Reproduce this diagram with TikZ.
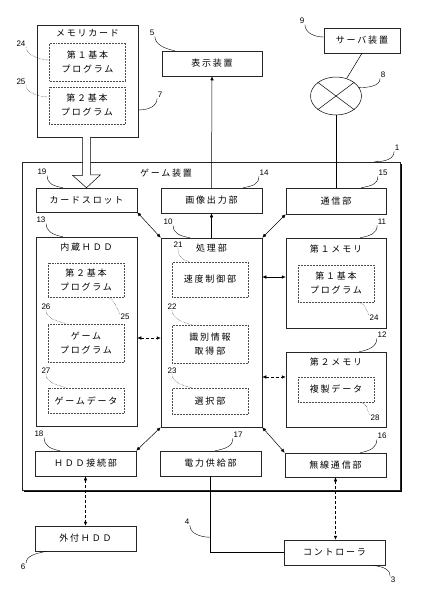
\documentclass[tikz,border=0pt]{standalone}
\usepackage{fontspec}
\setmainfont{Noto Sans CJK JP}
\newfontfamily\jpfont[LetterSpace=20]{Noto Sans CJK JP}
\newfontfamily\numfont{Liberation Sans}
\usetikzlibrary{arrows.meta, positioning, calc, shapes.geometric, shadows}
\tikzset{
    unit/.style={rectangle, draw=black!85, line width=0.5pt, fill=white, minimum width=101pt, minimum height=25pt, inner sep=0pt, align=center, font=\jpfont\fontsize{9}{14}\selectfont, drop shadow={shadow xshift=1pt, shadow yshift=-1pt, fill=black, opacity=1}},
    sub/.style={rectangle, draw=black!70, densely dotted, line width=0.5pt, minimum width=76pt, inner sep=0pt, align=center, font=\jpfont\fontsize{9}{14}\selectfont},
    ttl/.style={inner sep=0pt, font=\jpfont\fontsize{9}{14}\selectfont},
    num/.style={inner sep=0.5pt, font=\numfont\fontsize{8}{9}\selectfont},
    lead/.style={line width=0.4pt},
    leadin/.style={line width=0.4pt, densely dotted},
    arr/.style={-{Latex[length=4pt,width=3.5pt]}, line width=0.5pt}
}

\begin{document}
\begin{tikzpicture}[x=1pt, y=-1pt,
  arr2/.style={{Latex[length=4pt,width=3.5pt]}-{Latex[length=4pt,width=3.5pt]}, line width=0.5pt},
  link/.style={line width=0.5pt}]
  \useasboundingbox (0,0) rectangle (425,600);
  % outside the game device
  \node[unit, minimum height=112pt] (card) at (87.5,81) {};
  \node[ttl, below=4.5pt of card.north] (cardt) {メモリカード};
  \node[sub, minimum height=38pt] (cp1) at (87.5,62) {第１基本\\プログラム};
  \node[sub, minimum height=37pt] (cp2) at (87,105.5) {第２基本\\プログラム};
  \node[unit, minimum width=100pt] (disp) at (212,63.5) {表示装置};
  \node[unit, minimum width=76pt] (server) at (362,40.5) {サーバ装置};
  \node[ellipse, draw, line width=0.5pt, minimum width=51pt, minimum height=38pt, inner sep=0pt] (net) at (336,96) {};
  \draw[link] (net.north west) -- (net.south east);
  \draw[link] (net.north east) -- (net.south west);
  % game device
  \node[unit, minimum width=378pt, minimum height=328pt, drop shadow={shadow xshift=1.5pt, shadow yshift=-1.5pt, fill=black, opacity=1}] (game) at (211,326) {};
  \node[ttl] (gamet) at (166,173) {ゲーム装置};
  \node[unit, minimum height=24pt] (slot) at (86.5,200) {カードスロット};
  \node[unit] (imgout) at (211.5,200.5) {画像出力部};
  \node[unit, minimum width=100pt, minimum height=26pt] (comm) at (336,201) {通信部};
  \node[unit, minimum height=189pt] (hdd) at (86.5,331.5) {};
  \node[ttl, below=5.5pt of hdd.north] (hddt) {内蔵ＨＤＤ};
  \node[sub, minimum height=34pt] (hp2) at (86,280) {第２基本\\プログラム};
  \node[sub, minimum height=38pt] (hgp) at (86,343) {ゲーム\\プログラム};
  \node[sub, minimum height=25pt] (hgd) at (86,400.5) {ゲームデータ};
  \node[unit, minimum height=189pt] (proc) at (211.5,332.5) {};
  \node[ttl, below=5.5pt of proc.north] (proct) {処理部};
  \node[sub, minimum height=35pt] (spd) at (210,279.5) {速度制御部};
  \node[sub, minimum height=38pt] (idg) at (210,344) {識別情報\\取得部};
  \node[sub, minimum height=26pt] (sel) at (210,401) {選択部};
  \node[unit, minimum width=100pt, minimum height=90pt] (mem1) at (336,283) {};
  \node[ttl, below=6.5pt of mem1.north] (mem1t) {第１メモリ};
  \node[sub, minimum height=37pt] (m1p) at (336,283.5) {第１基本\\プログラム};
  \node[unit, minimum width=100pt, minimum height=75pt] (mem2) at (336,389.5) {};
  \node[ttl, below=5.5pt of mem2.north] (mem2t) {第２メモリ};
  \node[sub, minimum height=25pt] (dup) at (336,389.5) {複製データ};
  \node[unit] (hddc) at (85.5,463.5) {ＨＤＤ接続部};
  \node[unit] (pwr) at (210.5,463.5) {電力供給部};
  \node[unit, minimum height=24pt] (wless) at (335.5,465) {無線通信部};
  % below the game device
  \node[unit] (exthdd) at (85.5,538.5) {外付ＨＤＤ};
  \node[unit] (ctrl) at (334.5,552.5) {コントローラ};

  % connections
  \coordinate (ha) at (card.south -| slot.north);
  \draw[line width=0.5pt, fill=white] (ha) ++(-4,0) -- ++(0,38) -- ++(-10,0) -- (slot.north) -- ++(14,-13) -- ++(-10,0) -- ++(0,-38);
  \draw[arr] (imgout.north) -- (disp.south);
  \draw[link] (server.south) -- (net);
  \draw[link] (net.south) -- (comm.north);
  \draw[arr2] (slot.south east) -- (proc.north west);
  \draw[arr2] (proc.north east) -- (comm.south west);
  \draw[arr] (proc.north) -- (imgout.south);
  \draw[arr2] ([yshift=6pt]mem1.west -| proc.east) -- ([yshift=6pt]mem1.west);
  \draw[arr2, densely dashed] ([yshift=-6.5pt]hdd.east) -- ([yshift=-6.5pt]hdd.east -| proc.west);
  \draw[arr2, densely dashed] ([yshift=12.5pt]mem2.west -| proc.east) -- ([yshift=12.5pt]mem2.west);
  \draw[arr2] (proc.south west) -- (hddc.north east);
  \draw[arr2] (proc.south east) -- (wless.north west);
  \draw[arr2, densely dashed] (hddc.south) -- (exthdd.north);
  \draw[arr2, densely dashed] (wless.south) -- (wless.south |- ctrl.north);
  \draw[link] (pwr.south) |- (ctrl.west);
  \coordinate (pl) at ($(pwr.south)!0.8!(pwr.south |- ctrl.west)$);

  % reference numbers
  \node[num] (n24a) at (21,44) {24};
  \node[num] (n25a) at (21,82) {25};
  \node[num] (n7) at (160,95) {7};
  \node[num] (n5) at (152,33) {5};
  \node[num] (n9) at (302,21) {9};
  \node[num] (n8) at (383,75) {8};
  \node[num] (n1) at (397,148) {1};
  \node[num] (n19) at (42,172) {19};
  \node[num] (n14) at (264,173) {14};
  \node[num] (n15) at (383,173) {15};
  \node[num] (n13) at (41,220) {13};
  \node[num] (n10) at (168,222) {10};
  \node[num] (n11) at (382,222) {11};
  \node[num] (n21) at (178,245) {21};
  \node[num] (n22) at (172,307) {22};
  \node[num] (n23) at (172,371) {23};
  \node[num] (n26) at (46,307) {26};
  \node[num] (n27) at (46,371) {27};
  \node[num] (n25b) at (125,317) {25};
  \node[num] (n24b) at (374,318) {24};
  \node[num] (n12) at (382,335) {12};
  \node[num] (n28) at (375,418) {28};
  \node[num] (n17) at (238,435) {17};
  \node[num] (n16) at (382,436) {16};
  \node[num] (n18) at (39,434) {18};
  \node[num] (n6) at (23,567) {6};
  \node[num] (n3) at (393,580) {3};
  \node[num] (n4) at (187,522) {4};

  % leaders
  \draw[leadin] (n24a.south east) .. controls +(0,7) and +(-10,0) .. ([yshift=2pt]cp1.west);
  \draw[leadin] (n25a.south east) .. controls +(0,7) and +(-10,0) .. ([yshift=8.5pt]cp2.west);
  \draw[lead] (n7.south west) .. controls +(0,8) and +(10,0) .. ([yshift=-29pt]card.east);
  \draw[lead] (n5.south east) .. controls +(0,8) and +(-10,-2) .. ([xshift=13pt]disp.north west);
  \draw[lead] (n9.south east) .. controls +(0,8) and +(-10,0) .. ([yshift=3.5pt]server.west);
  \draw[lead] (n8.south west) .. controls +(0,8) and +(8,0) .. (net.20);
  \draw[lead] (n1.south west) .. controls +(0,8) and +(10,0) .. ([xshift=-26pt]game.north east);
  \draw[lead] (n19.south east) .. controls +(0,8) and +(-10,-2) .. ([xshift=27pt]slot.north west);
  \draw[lead] (n14.south west) .. controls +(0,8) and +(10,-2) .. ([xshift=-19pt]imgout.north east);
  \draw[lead] (n15.south west) .. controls +(0,8) and +(10,-2) .. ([xshift=-25pt]comm.north east);
  \draw[lead] (n13.south east) .. controls +(0,8) and +(-10,-2) .. ([xshift=27pt]hdd.north west);
  \draw[lead] (n10.south east) .. controls +(0,8) and +(-10,-2) .. ([xshift=29pt]proc.north west);
  \draw[lead] (n11.south west) .. controls +(0,8) and +(10,-2) .. ([xshift=-26pt]mem1.north east);
  \draw[leadin] (n21.south) .. controls +(0,8) and +(-8,-2) .. ([xshift=18pt]spd.north west);
  \draw[leadin] (n22.south) .. controls +(0,8) and +(-8,-2) .. ([xshift=20pt]idg.north west);
  \draw[leadin] (n23.south) .. controls +(0,8) and +(-8,-2) .. ([xshift=20pt]sel.north west);
  \draw[leadin] (n26.south) .. controls +(0,8) and +(-8,-2) .. ([xshift=19pt]hgp.north west);
  \draw[leadin] (n27.south) .. controls +(0,8) and +(-8,-2) .. ([xshift=19pt]hgd.north west);
  \draw[leadin] (n25b.north west) .. controls +(-4,-6) and +(8,2) .. ([xshift=-17pt]hp2.south east);
  \draw[leadin] (n24b.north west) .. controls +(-4,-6) and +(8,2) .. ([xshift=-16pt]m1p.south east);
  \draw[lead] (n12.south west) .. controls +(0,8) and +(10,-2) .. ([xshift=-27pt]mem2.north east);
  \draw[leadin] (n28.north west) .. controls +(-4,-6) and +(8,2) .. ([xshift=-14pt]dup.south east);
  \draw[lead] (n17.south west) .. controls +(0,8) and +(10,-2) .. ([xshift=-46pt]pwr.north east);
  \draw[lead] (n16.south west) .. controls +(0,8) and +(10,-2) .. ([xshift=-26pt]wless.north east);
  \draw[lead] (n18.south east) .. controls +(0,8) and +(-10,-2) .. ([xshift=25pt]hddc.north west);
  \draw[lead] (n6.north east) .. controls +(0,-8) and +(-10,2) .. ([xshift=12pt]exthdd.south west);
  \draw[lead] (n3.north west) .. controls +(0,-8) and +(10,2) .. ([xshift=-12pt]ctrl.south east);
  \draw[lead] (n4.south east) .. controls +(0,8) and +(-10,0) .. (pl);
\end{tikzpicture}
\end{document}
